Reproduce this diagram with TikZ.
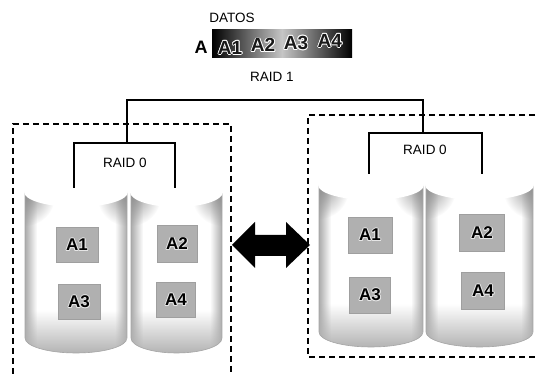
\documentclass[tikz,border=0pt]{standalone}
\usepackage{fontspec}
\setmainfont{Liberation Sans}
\usetikzlibrary{fadings}

\tikzfading[name=fadetoright, left color=transparent!0, right color=transparent!100]
\tikzfading[name=fadetoleft, left color=transparent!100, right color=transparent!0]
\tikzfading[name=fadeup, top color=transparent!100, bottom color=transparent!0]
\tikzfading[name=blob, inner color=transparent!0, outer color=transparent!100]

% text with a thin halo of another colour around it
\newcommand\ringtxt[3]{%
  \leavevmode
  \rlap{\kern0.9pt\textcolor{#1}{#3}}%
  \rlap{\kern-0.9pt\textcolor{#1}{#3}}%
  \rlap{\raisebox{0.9pt}{\textcolor{#1}{#3}}}%
  \rlap{\raisebox{-0.9pt}{\textcolor{#1}{#3}}}%
  \rlap{\kern0.65pt\raisebox{0.65pt}{\textcolor{#1}{#3}}}%
  \rlap{\kern-0.65pt\raisebox{0.65pt}{\textcolor{#1}{#3}}}%
  \rlap{\kern0.65pt\raisebox{-0.65pt}{\textcolor{#1}{#3}}}%
  \rlap{\kern-0.65pt\raisebox{-0.65pt}{\textcolor{#1}{#3}}}%
  \textcolor{#2}{#3}}

% one disk: left x, right x, top-centre y, bottom-centre y, rim radius
\newcommand\disk[5]{%
  \begin{scope}
    \clip (#1,#3) -- (#1,#4) arc[start angle=180, end angle=360,
      x radius={(#2-#1)/2*1pt}, y radius=#5pt] -- (#2,#3) -- cycle;
    \fill[white] (#1,#3) rectangle (#2,#4+20);
    \fill[gray!65, path fading=fadetoright] (#1,#3) rectangle (#1+12,#4+20);
    \fill[gray!65, path fading=fadetoleft] (#2-12,#3) rectangle (#2,#4+20);
    \fill[gray!60, path fading=fadeup] (#1,#4-28) rectangle (#2,#4+#5+1);
    \fill[gray!85, path fading=blob] (#1,#3+4) circle[radius=30pt];
    \fill[gray!85, path fading=blob] (#2,#3+4) circle[radius=30pt];
  \end{scope}
  \draw[gray!70, line width=0.6pt] (#1,#3) -- (#1,#4) arc[start angle=180, end angle=360,
      x radius={(#2-#1)/2*1pt}, y radius=#5pt] -- (#2,#3);
  \fill[white] ({(#1+#2)/2},#3) ellipse[x radius={(#2-#1)/2*1pt+1pt}, y radius=#5pt];
}

\tikzset{
  label/.style={font=\fontsize{13.5}{15}\selectfont, inner sep=1pt},
  wire/.style={line width=1.2pt, black},
  group/.style={line width=1.4pt, dash pattern=on 6pt off 4pt},
  block/.style={fill=gray!62, draw=gray!75, line width=0.6pt, inner sep=0pt,
    font=\fontsize{17}{19}\selectfont\bfseries},
  strip/.style={left color=black, right color=black, middle color=gray!45,
    minimum width=140pt, minimum height=28pt, inner sep=0pt},
  stripcell/.style={font=\fontsize{19}{21}\selectfont\bfseries, inner sep=0pt},
}

\begin{document}
\begin{tikzpicture}[x=1pt, y=-1pt]
  \useasboundingbox (0,0) rectangle (539,374);
  \fill[white] (0,0) rectangle (539,374);

  % data to be stored
  \node[label] (datos) at (232,18) {DATOS};
  \node[font=\fontsize{18}{20}\selectfont\bfseries, inner sep=0pt] (afile) at (201,47) {A};
  \begin{scope}[shift={(282,44)}, rotate=4]
    \node[strip] (bar) at (0,0) {};
    \node[stripcell] (s1) at (-52,0) {\ringtxt{white}{black!90}{A1}};
    \node[stripcell] (s2) at (-19,0) {\ringtxt{white}{black!90}{A2}};
    \node[stripcell] (s3) at (14,0) {\ringtxt{white}{black!90}{A3}};
    \node[stripcell] (s4) at (48,0) {\ringtxt{white}{black!90}{A4}};
  \end{scope}

  % mirror groups
  \draw[group] (13,374) -- (13,124) -- (231,124) -- (231,374);
  \draw[group] (545,115) -- (308,115) -- (308,357) -- (545,357);

  % disks of the left group
  \disk{25}{127}{192}{338}{15}
  \disk{131}{222}{192}{338}{15}
  % disks of the right group
  \disk{319}{423}{185}{332}{15}
  \disk{426}{533}{185}{332}{15}

  % stripe blocks
  \node[block, minimum width=42pt, minimum height=35pt] (l1) at (77,245) {\ringtxt{gray!20}{black}{A1}};
  \node[block, minimum width=42pt, minimum height=35pt] (l3) at (79,302) {\ringtxt{gray!20}{black}{A3}};
  \node[block, minimum width=40pt, minimum height=37pt] (l2) at (177,244) {\ringtxt{gray!20}{black}{A2}};
  \node[block, minimum width=39pt, minimum height=35pt] (l4) at (176,300) {\ringtxt{gray!20}{black}{A4}};
  \node[block, minimum width=44pt, minimum height=36pt] (r1) at (370,235) {\ringtxt{gray!20}{black}{A1}};
  \node[block, minimum width=41pt, minimum height=36pt] (r3) at (370,295) {\ringtxt{gray!20}{black}{A3}};
  \node[block, minimum width=45pt, minimum height=37pt] (r2) at (482,233) {\ringtxt{gray!20}{black}{A2}};
  \node[block, minimum width=43pt, minimum height=37pt] (r4) at (483,291) {\ringtxt{gray!20}{black}{A4}};

  % RAID connections
  \node[label] (raid1) at (272,77) {RAID 1};
  \node[label] (raid0l) at (125,163) {RAID 0};
  \node[label] (raid0r) at (425,150) {RAID 0};

  \coordinate (lhub) at (127,143);
  \coordinate (rhub) at (423,133);
  \coordinate (mirror) at (272,100);
  \coordinate (ltopa) at (74,188);
  \coordinate (ltopb) at (175,188);
  \coordinate (rtopa) at (369,174);
  \coordinate (rtopb) at (482,174);

  \draw[wire] (lhub) |- (mirror) -| (rhub);
  \draw[wire] (ltopa) |- (lhub) -| (ltopb);
  \draw[wire] (rtopa) |- (rhub) -| (rtopb);

  % exchange arrow between the groups
  \fill[black] (232,245) -- (255,222) -- (255,235) -- (286,235) -- (286,222)
    -- (310,245) -- (286,268) -- (286,256) -- (255,256) -- (255,268) -- cycle;
\end{tikzpicture}
\end{document}
